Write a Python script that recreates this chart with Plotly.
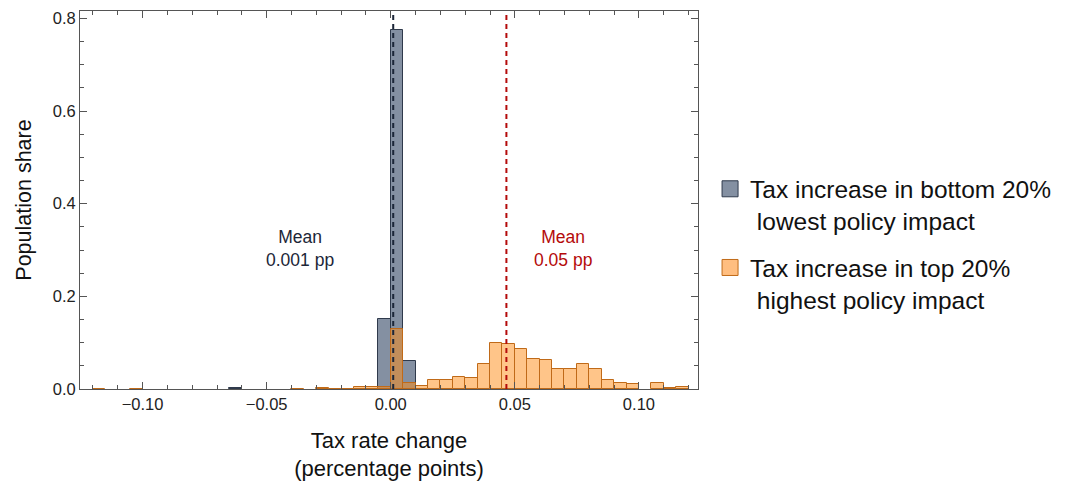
import plotly.graph_objects as go

# Histogram bins (bin centres, width 0.005) and population shares
bin_width = 0.005

bottom_bins = [-0.0625, -0.0025, 0.0025, 0.0075]
bottom_share = [0.0015, 0.152, 0.775, 0.061]

top_bins = [-0.1175, -0.1025, -0.0375, -0.0275, -0.0225, -0.0175, -0.0125, -0.0075,
            -0.0025, 0.0025, 0.0075, 0.0125, 0.0175, 0.0225, 0.0275, 0.0325,
            0.0375, 0.0425, 0.0475, 0.0525, 0.0575, 0.0625, 0.0675, 0.0725,
            0.0775, 0.0825, 0.0875, 0.0925, 0.0975, 0.1075, 0.1125, 0.1175]
top_share = [0.001, 0.001, 0.001, 0.002, 0.001, 0.001, 0.004, 0.005,
             0.004, 0.130, 0.012, 0.007, 0.019, 0.019, 0.026, 0.023,
             0.054, 0.099, 0.098, 0.087, 0.064, 0.062, 0.043, 0.044,
             0.054, 0.044, 0.019, 0.013, 0.010, 0.014, 0.0015, 0.005]

bottom_mean = 0.001
top_mean = 0.0466

legend_names = ["Tax increase in bottom 20%<br>\u00a0lowest policy impact",
                "Tax increase in top 20%<br>\u00a0highest policy impact"]

x_ticks = [-0.10, -0.05, 0.00, 0.05, 0.10]
y_ticks = [0.0, 0.2, 0.4, 0.6, 0.8]

FONT = "Liberation Sans, Arial, sans-serif"
GREY_FILL = "rgba(110,124,146,0.85)"
GREY_EDGE = "#2f3a4c"
ORANGE_FILL = "rgba(255,140,20,0.5)"
ORANGE_EDGE = "#c06a18"
NAVY = "#1c2638"
RED = "#b40a0a"

fig = go.Figure()

fig.add_trace(go.Bar(
    x=bottom_bins, y=bottom_share, width=bin_width,
    marker=dict(color=GREY_FILL, line=dict(color=GREY_EDGE, width=1)),
    showlegend=False,
))
fig.add_trace(go.Bar(
    x=top_bins, y=top_share, width=bin_width,
    marker=dict(color=ORANGE_FILL, line=dict(color=ORANGE_EDGE, width=1)),
    showlegend=False,
))

# Legend swatches
fig.add_trace(go.Scatter(
    x=[None], y=[None], mode="markers", name=legend_names[0], legendgroup="bottom",
    marker=dict(symbol="square", size=19, color=GREY_FILL,
                line=dict(color=GREY_EDGE, width=1)),
))
fig.add_trace(go.Scatter(
    x=[None], y=[None], mode="markers", name=legend_names[1], legendgroup="top",
    marker=dict(symbol="square", size=19, color="rgba(255,190,128,1)",
                line=dict(color=ORANGE_EDGE, width=1)),
))

# Mean lines
for xm, col in [(bottom_mean, NAVY), (top_mean, RED)]:
    fig.add_shape(type="line", xref="x", yref="paper", x0=xm, x1=xm, y0=0, y1=1,
                  line=dict(color=col, width=2, dash="5px,4px"))

fig.add_annotation(x=-0.0365, y=0.3026, xref="x", yref="y",
                   text=f"Mean<br>{bottom_mean:.3f} pp", showarrow=False,
                   font=dict(family=FONT, size=17.5, color=NAVY), align="center")
fig.add_annotation(x=0.0696, y=0.3026, xref="x", yref="y",
                   text=f"Mean<br>{top_mean:.2f} pp", showarrow=False,
                   font=dict(family=FONT, size=17.5, color=RED), align="center")

axis_common = dict(
    showline=True, linecolor="#555555", linewidth=1, mirror="ticks",
    ticks="inside", tickcolor="#555555", ticklen=7, tickwidth=1,
    showgrid=False, zeroline=False,
    tickfont=dict(family=FONT, size=16.5, color="#222222"),
)

fig.update_xaxes(
    range=[-0.1252, 0.1238], tickvals=x_ticks, tickformat=".2f",
    minor=dict(dtick=0.01, tick0=0, ticks="inside", ticklen=4, tickcolor="#555555"),
    title=dict(text="Tax rate change<br>(percentage points)",
               font=dict(family=FONT, size=22, color="#111111"), standoff=20),
    **axis_common,
)
fig.update_yaxes(
    range=[0, 0.816], tickvals=y_ticks, tickformat=".1f",
    minor=dict(dtick=0.05, tick0=0, ticks="inside", ticklen=4, tickcolor="#555555"),
    title=dict(text="Population share",
               font=dict(family=FONT, size=21.5, color="#111111"), standoff=15),
    **axis_common,
)

fig.update_layout(
    width=1073, height=492,
    margin=dict(l=80, r=375, t=9, b=103),
    barmode="overlay", bargap=0,
    plot_bgcolor="white", paper_bgcolor="white",
    font=dict(family=FONT, color="#111111"),
    legend=dict(x=1.0195, y=0.589, xanchor="left", yanchor="top",
                font=dict(family=FONT, size=24.5, color="#111111"),
                valign="top", tracegroupgap=12, itemwidth=30,
                bgcolor="rgba(0,0,0,0)"),
)

fig.write_html("out.html")
